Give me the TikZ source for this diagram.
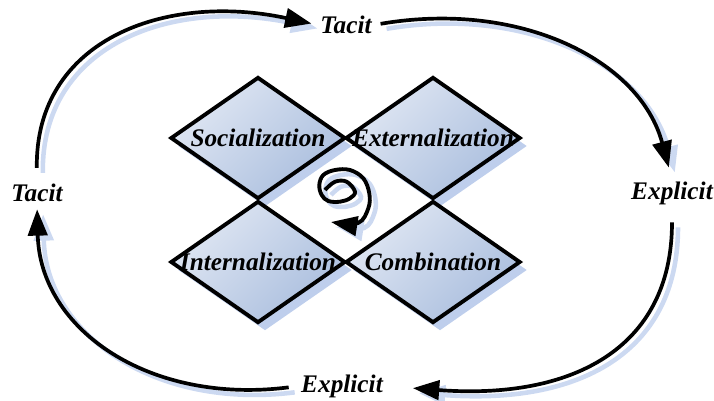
\documentclass[tikz,border=0pt]{standalone}
\usepackage{fontspec}
\setmainfont{Liberation Serif}
\usepackage{xcolor}
\definecolor{quadlight}{RGB}{224,231,243}
\definecolor{quaddark}{RGB}{170,190,222}
\definecolor{shadowblue}{RGB}{190,206,236}
\definecolor{shadowpale}{RGB}{204,217,241}
\usepackage{tikz}
\usetikzlibrary{shapes.geometric}
\usetikzlibrary{arrows.meta}
\newcommand{\labelfont}{\fontsize{14.4}{16}\selectfont\bfseries\itshape}
\tikzset{
    shadowed/.style={preaction={draw=shadowpale, line width=2.6pt, transform canvas={shift={(6,5)}}}},
    quad/.style={diamond, draw, line width=2.2pt, inner sep=0pt, aspect=1.45,
        minimum width=3.5cm, minimum height=2.44cm,
        top color=quadlight, bottom color=quaddark, shading angle=45,
        preaction={fill=shadowblue, transform canvas={shift={(7,8)}}}},
    word/.style={font=\labelfont, inner sep=1pt},
    cycle/.style={shadowed, line width=2.1pt, -{Triangle[length=15pt, width=11pt]}}
}

\begin{document}
\begin{tikzpicture}[x=0.02cm, y=-0.02cm]
    \useasboundingbox (0,0) rectangle (714,400);

    % the four modes
    \node[quad] (soc) at (258,138) {};
    \node[quad] (ext) at (433,138) {};
    \node[quad] (int) at (258,262) {};
    \node[quad] (com) at (433,262) {};

    \node[word] (soc-text) at (soc) {Socialization};
    \node[word] (ext-text) at (ext) {Externalization};
    \node[word] (int-text) at (int) {Internalization};
    \node[word] (com-text) at (com) {Combination};

    % knowledge kinds round the outside
    \node[word] (tacit-n) at (346,25) {Tacit};
    \node[word] (explicit-e) at (672,193) {Explicit};
    \node[word] (explicit-s) at (342,386) {Explicit};
    \node[word] (tacit-w) at (37,193) {Tacit};

    \draw[cycle, shorten <=8pt, shorten >=4pt]
        (tacit-w.north) .. controls (35,40) and (165,-8) .. (tacit-n.west);
    \draw[cycle, shorten <=4pt, shorten >=7pt]
        (tacit-n.east) .. controls (520,0) and (640,60) .. (explicit-e.north);
    \draw[cycle, shorten <=9pt, shorten >=16pt]
        (explicit-e.south) .. controls (672,350) and (570,400) .. (explicit-s.east);
    \draw[cycle, shorten <=6pt, shorten >=3pt]
        (explicit-s.west) .. controls (150,405) and (40,330) .. (tacit-w.south);

    % spiral in the middle
    \draw[cycle, line width=2.2pt] plot[smooth, tension=0.6] coordinates {
        (325,190) (335,181.7) (346.7,181.7) (355,191.7) (350,198.3) (340,201.7)
        (328.3,201) (321.7,195) (319.3,185) (323.3,175) (335,170) (350,170)
        (363.3,178.3) (369.3,193.3) (368.3,208.3) (358,223) (331,222)};
\end{tikzpicture}
\end{document}
